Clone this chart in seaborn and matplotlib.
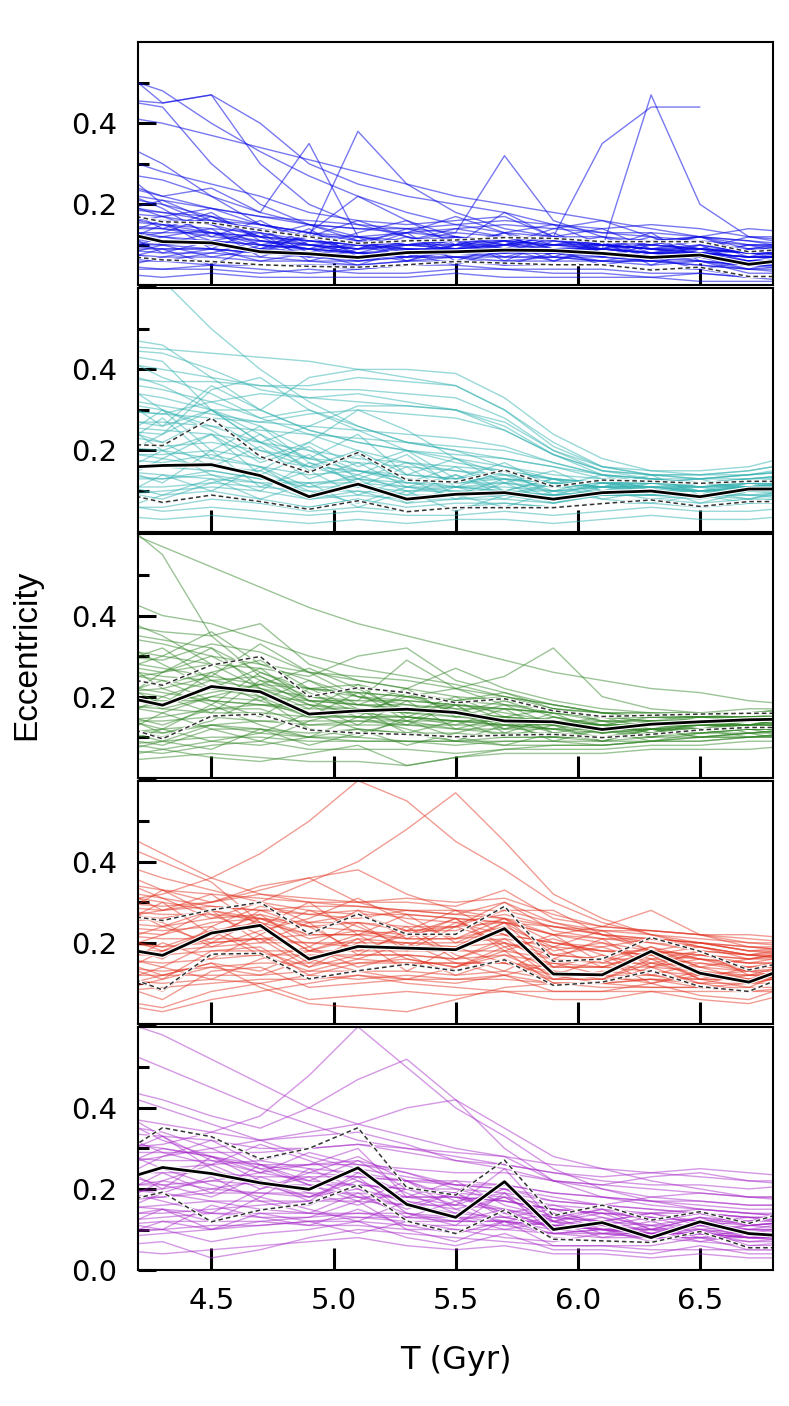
import numpy as np
import pandas as pd
import matplotlib
matplotlib.use("Agg")
import matplotlib.pyplot as plt
import matplotlib.patheffects as pe
import seaborn as sns

# ---------------- data (eccentricity x100) ----------------
T = [4.1, 4.3, 4.5, 4.7, 4.9, 5.1, 5.3, 5.5, 5.7, 5.9, 6.1, 6.3, 6.5, 6.7, 6.9]
NA = np.nan

blue_lines = [
    [55,45,47,30,20,15,12,10,9,8,8,7,6,5,5],
    [52,48,40,33,27,22,18,15,13,12,10,9,9,8,8],
    [46,44,30,20,15,12,10,11,9,8,8,7,7,6,6],
    [36,30,22,15,12,38,25,18,14,12,10,9,8,7,7],
    [28,26,22,18,35,12,10,9,9,8,8,7,8,7,7],
    [22,20,17,13,10,8,7,10,18,12,9,8,7,6,6],
    [15,14,13,12,11,10,10,9,10,12,35,44,44,NA,NA],
    [10,9,9,8,9,10,11,12,10,8,9,47,20,12,10],
    [20,18,16,14,12,12,11,13,32,16,12,10,9,8,8],
    [25,22,24,18,15,14,13,12,11,10,10,9,9,8,8],
    [18,17,15,12,10,9,9,8,9,8,8,7,7,6,6],
    [16,15,14,13,11,10,9,9,8,9,9,8,8,7,7],
    [14,12,11,10,9,8,8,9,9,10,9,8,8,6,6],
    [12,11,10,9,8,7,8,8,9,9,8,7,7,5,5],
    [11,10,9,8,7,6,7,8,8,8,7,6,7,4,5],
    [9,8,8,7,6,5,6,7,7,7,6,5,6,3,3],
    [7,6,6,5,5,4,5,6,5,5,5,4,4,2,2],
    [5,4,4,3,4,3,3,4,4,3,3,2,3,2,1],
    [3,2,3,2,2,2,2,3,2,2,2,2,1,1,1],
    [19,18,17,15,13,11,10,10,11,12,12,11,12,9,9],
    [17,16,16,15,13,12,13,14,15,14,13,13,12,10,10],
    [23,21,19,17,15,14,14,15,16,15,14,15,14,12,12],
    [13,13,13,11,10,9,10,11,11,10,10,9,10,8,8],
    [10,10,11,10,9,8,9,9,10,11,10,10,9,9,10],
    [8,7,7,6,6,6,7,7,6,6,6,6,5,4,4],
    [6,6,5,5,5,5,6,6,6,7,6,6,5,4,3],
    [21,17,13,10,9,8,7,7,8,9,9,8,8,6,6],
    [15,17,19,15,13,22,16,12,10,9,10,9,8,7,7],
    [12,12,10,9,10,11,13,17,13,10,9,8,7,6,6],
    [26,22,19,17,16,15,14,13,12,11,10,11,12,11,9],
    [32,28,25,22,18,16,15,16,17,12,10,9,8,7,7],
    [9,9,9,8,8,7,8,8,7,7,7,6,6,5,5],
    [11,11,10,9,8,8,8,9,9,9,9,8,8,7,7],
    [14,14,12,11,10,9,10,10,10,10,11,10,9,8,7],
    [4,4,5,4,3,4,5,5,4,4,4,3,3,2,2],
    [17,15,13,12,11,10,9,9,8,8,9,10,12,14,13],
    [46,45,47,40,30,25,22,20,18,15,13,12,11,10,10],
    [42,40,37,34,31,28,25,22,20,18,16,14,12,11,10],
    [12,16,9,14,8,12,6,10,13,7,11,5,9,6,8],
    [8,12,14,7,11,9,13,6,10,12,7,10,12,8,6],
    [16,10,13,9,14,7,10,12,6,11,9,12,7,10,9],
    [6,9,5,10,7,11,8,5,9,6,10,7,4,6,5],
    [20,14,18,11,9,13,16,10,8,12,14,9,11,7,10],
    [10,15,11,8,13,10,7,12,9,13,8,6,10,8,11],
    [24,19,12,16,10,8,11,14,12,9,7,11,8,10,7],
    [14,8,11,13,6,9,12,8,11,6,9,13,6,4,7],
    [4,7,9,6,8,5,9,7,5,8,6,8,10,5,4],
    [30,20,15,10,12,16,12,9,13,15,10,8,9,12,11],
    [18,21,16,12,15,11,9,8,10,14,16,12,9,8,10],
    [9,6,8,11,9,6,8,10,12,9,5,7,8,9,6],
    [11,13,17,12,7,10,14,11,7,10,12,8,6,5,8],
    [7,10,7,9,12,8,6,9,11,8,10,9,7,9,11],
]
cyan_lines = [
    [70,62,50,40,32,26,22,20,18,16,14,13,12,12,13],
    [46,45,44,43,42,40,38,36,30,22,16,14,13,14,15],
    [42,40,38,36,35,35,34,33,28,20,15,13,12,13,14],
    [45,44,40,35,33,32,31,30,26,19,14,12,12,13,14],
    [38,37,37,36,36,38,37,36,30,21,16,15,14,14,16],
    [35,33,30,30,38,40,40,39,33,24,18,15,15,16,19],
    [30,29,28,27,29,30,29,28,25,19,15,14,13,13,14],
    [33,31,29,27,26,25,24,23,21,17,14,13,12,12,13],
    [28,26,36,30,25,22,20,19,18,16,13,12,12,12,12],
    [26,25,24,22,20,18,17,16,15,13,12,11,11,11,12],
    [24,22,28,20,16,20,14,13,15,11,13,12,12,12,12],
    [21,20,18,16,14,15,13,12,13,11,12,12,11,12,12],
    [18,17,19,16,11,14,10,11,12,10,11,11,10,11,11],
    [16,16,17,14,9,12,8,9,10,8,10,10,9,11,11],
    [14,13,14,12,8,10,7,8,8,7,9,9,8,10,10],
    [12,9,10,8,6,8,6,7,7,6,7,8,7,8,8],
    [10,7,9,7,6,8,5,6,6,6,7,8,6,7,7],
    [7,5,6,5,4,5,4,4,5,4,5,6,5,5,6],
    [4,3,4,3,2,3,2,3,3,2,3,4,3,3,4],
    [40,36,30,24,18,15,12,11,10,10,11,10,10,11,11],
    [44,42,30,22,16,13,11,10,9,9,9,9,9,10,10],
    [32,30,26,22,26,31,31,30,27,20,16,14,14,15,17],
    [37,35,32,28,24,20,17,15,13,12,11,11,10,10,11],
    [27,27,26,25,24,23,22,21,20,17,14,13,13,14,15],
    [22,21,22,20,18,17,16,15,14,13,12,12,12,13,13],
    [19,19,20,18,16,15,14,13,13,12,12,12,11,12,13],
    [13,13,15,13,11,11,10,10,10,9,10,10,10,10,11],
    [9,10,11,10,8,9,8,8,9,8,9,9,9,9,10],
    [48,46,38,30,25,22,20,18,16,14,13,12,12,12,12],
    [25,24,35,38,30,25,20,17,15,13,12,11,11,11,12],
    [20,18,16,15,22,30,25,18,14,12,11,10,10,11,11],
    [6,6,8,7,5,6,5,6,7,6,7,7,6,7,8],
    [15,14,13,12,12,13,12,12,12,11,11,11,10,11,12],
    [17,16,15,13,12,12,11,11,11,10,10,10,10,10,10],
    [11,11,12,11,10,10,9,9,9,9,9,9,9,9,9],
    [30,29,32,34,33,34,32,30,25,19,15,14,14,15,17],
    [20,28,18,24,15,19,12,16,10,13,9,12,10,8,11],
    [12,18,24,14,19,11,16,9,13,8,11,14,9,12,10],
    [28,20,24,17,21,13,17,12,14,10,13,9,12,10,12],
    [8,14,10,16,9,13,7,11,8,12,8,10,11,9,8],
    [34,26,30,22,18,24,14,18,12,15,10,13,11,12,14],
    [16,12,20,11,15,9,13,8,12,7,10,8,9,7,9],
    [22,30,25,18,22,16,20,13,17,11,14,10,12,11,13],
    [5,9,13,8,12,6,10,5,9,7,9,11,7,10,9],
    [38,30,20,26,17,14,19,11,15,9,12,10,9,11,10],
    [14,20,14,10,17,12,9,14,10,13,10,12,13,10,12],
    [26,22,16,21,13,17,11,14,9,12,11,13,10,12,11],
    [10,8,12,15,10,7,11,9,6,10,8,7,9,8,10],
    [18,24,30,26,20,15,13,11,10,9,10,11,12,11,12],
    [44,38,34,28,30,26,22,20,16,13,11,12,13,14,15],
]
green_lines = [
    [62,57,52,47,42,38,35,32,29,26,24,22,21,19,18],
    [65,55,35,25,20,18,17,16,15,14,13,13,13,13,13],
    [45,40,38,34,30,27,25,23,20,18,16,15,15,15,15],
    [38,36,35,38,28,24,22,20,19,17,15,15,16,16,16],
    [35,33,30,28,26,25,24,22,20,18,16,16,16,17,17],
    [30,29,33,31,26,24,22,27,22,19,17,16,16,16,17],
    [28,26,28,30,20,22,21,19,20,17,15,15,16,16,16],
    [25,23,26,29,22,23,20,19,21,17,16,15,15,16,17],
    [22,20,24,25,19,19,19,18,17,16,14,14,15,15,15],
    [20,18,22,21,16,17,17,16,14,14,12,13,14,14,14],
    [18,16,20,19,15,15,15,14,13,13,11,12,13,13,13],
    [16,13,17,17,13,13,13,12,12,12,10,11,12,12,12],
    [13,10,15,16,12,11,11,10,11,11,10,11,12,12,12],
    [10,8,12,12,10,9,9,8,9,9,8,9,10,10,10],
    [7,6,8,9,7,7,7,6,7,7,7,8,8,9,9],
    [4,5,6,5,4,4,3,5,6,6,6,7,7,7,8],
    [32,30,28,27,25,30,32,24,21,18,16,15,15,15,16],
    [24,26,30,24,22,21,20,22,25,32,20,17,16,16,17],
    [26,24,22,20,19,18,18,17,17,16,15,15,15,15,15],
    [19,19,19,18,17,17,16,16,15,14,13,13,13,13,14],
    [14,14,15,14,14,14,13,13,13,12,11,12,12,12,13],
    [11,12,13,12,11,12,11,11,10,10,10,10,11,11,12],
    [8,9,10,10,9,9,9,9,9,9,9,9,10,10,11],
    [27,25,24,22,20,19,29,22,18,16,15,14,14,14,15],
    [36,34,32,26,22,20,19,18,17,16,15,14,14,14,14],
    [21,22,25,33,26,20,17,15,14,13,12,12,12,13,13],
    [17,18,21,23,19,18,17,18,16,14,13,13,13,13,14],
    [12,11,13,14,13,14,14,12,11,10,10,11,11,12,12],
    [15,12,9,8,10,12,11,9,8,8,8,9,9,10,11],
    [9,7,5,4,6,8,3,5,7,8,8,9,9,10,10],
    [23,21,19,18,18,17,16,15,15,14,14,14,14,14,15],
    [18,17,16,16,15,15,15,14,14,13,13,13,13,14,14],
    [29,27,25,23,22,21,20,19,18,17,16,16,15,15,15],
    [14,15,17,18,16,15,14,14,13,12,12,12,13,13,13],
    [5,7,9,11,10,10,9,9,10,10,9,10,10,11,11],
    [40,35,28,22,18,16,15,14,14,13,12,12,12,12,12],
    [24,18,26,20,15,21,14,18,12,16,11,14,12,13,15],
    [14,20,16,24,18,13,19,12,15,11,13,10,14,11,12],
    [30,22,18,26,21,16,20,17,13,15,12,14,13,15,14],
    [10,16,12,9,14,17,11,14,10,13,9,12,11,12,13],
    [18,26,32,22,17,23,15,19,14,12,14,11,13,12,14],
    [28,32,24,19,24,18,22,15,18,13,15,12,14,13,15],
    [8,12,18,13,10,15,12,9,13,10,12,9,11,12,10],
    [34,28,22,27,19,15,21,16,12,14,11,13,12,14,13],
    [16,11,14,20,12,10,15,13,17,11,10,12,10,11,12],
    [20,24,19,15,22,17,13,18,11,15,13,11,14,12,13],
    [12,9,13,11,16,12,8,11,14,9,12,10,12,10,11],
    [26,30,36,28,24,20,18,16,19,15,13,15,14,13,15],
    [6,9,7,12,8,11,14,10,8,11,9,12,10,11,9],
    [22,17,20,23,27,22,16,20,15,17,14,13,15,14,16],
]
red_lines = [
    [30,32,36,42,50,60,55,45,38,30,25,22,20,18,17],
    [25,26,28,30,35,40,48,57,45,32,26,22,19,17,16],
    [48,42,36,32,30,29,28,27,26,24,22,21,20,19,18],
    [35,33,32,31,30,30,31,30,31,27,24,23,22,21,20],
    [30,29,30,32,31,30,30,29,33,26,24,23,22,20,19],
    [27,26,28,30,22,27,22,22,29,15,16,21,18,13,16],
    [25,24,26,27,24,25,23,23,26,20,19,21,19,16,17],
    [23,22,25,26,21,23,21,21,26,17,16,19,16,13,16],
    [21,19,23,25,18,21,20,19,25,14,14,18,14,11,15],
    [19,17,22,24,16,19,19,18,24,12,12,18,13,10,15],
    [17,14,20,21,14,17,17,16,20,11,11,16,11,9,14],
    [15,11,18,19,12,15,16,14,18,10,10,14,10,8,13],
    [13,8,17,17,11,13,15,13,16,10,10,13,9,8,13],
    [10,6,13,14,9,10,11,10,12,8,8,10,7,6,10],
    [6,4,8,10,6,7,8,7,8,6,6,8,6,5,8],
    [40,36,33,30,28,27,27,26,25,24,23,23,22,22,21],
    [33,31,29,28,27,26,28,27,30,23,21,20,19,17,17],
    [28,27,27,26,25,25,24,24,25,22,21,21,20,19,19],
    [22,21,21,21,20,20,20,20,21,19,18,18,17,16,16],
    [24,23,24,29,27,28,26,25,27,24,22,21,20,18,18],
    [20,19,20,21,22,22,21,21,22,20,18,17,16,15,15],
    [18,18,19,20,20,19,19,19,20,17,16,16,15,14,14],
    [16,15,16,17,17,17,17,16,17,15,14,14,13,12,13],
    [14,13,14,15,15,15,15,15,15,13,12,12,11,11,11],
    [12,12,12,12,13,13,13,12,13,11,11,11,10,10,10],
    [8,9,10,11,11,12,11,11,11,10,9,9,9,9,9],
    [5,3,6,8,10,12,10,9,8,8,8,8,8,8,8],
    [38,33,30,34,36,38,32,28,26,22,20,18,17,15,15],
    [26,28,30,33,36,30,27,26,25,22,24,28,22,19,18],
    [20,24,28,25,22,22,23,24,28,28,22,18,16,14,14],
    [32,30,28,26,24,23,22,24,30,25,22,20,18,17,16],
    [11,10,11,10,12,11,12,11,12,10,10,9,9,8,9],
    [17,17,18,18,18,18,18,18,18,16,15,15,14,13,13],
    [29,28,29,28,29,29,28,28,28,25,23,22,21,20,20],
    [9,12,15,9,5,4,3,6,9,10,10,11,11,11,12],
    [45,40,35,25,18,16,15,15,15,14,14,13,12,12,12],
    [24,30,22,27,19,25,18,24,20,16,21,14,18,12,15],
    [18,22,28,20,25,17,23,16,21,14,17,12,15,13,14],
    [30,24,20,26,22,28,21,26,18,22,15,19,14,16,18],
    [14,20,16,22,15,21,13,19,15,12,16,10,13,11,12],
    [34,28,32,24,30,22,27,20,25,18,20,16,18,17,19],
    [20,16,24,18,14,20,24,17,13,19,14,17,11,14,16],
    [26,33,27,22,28,24,19,25,22,17,19,15,17,16,18],
    [10,14,11,16,19,14,17,12,16,11,13,12,10,12,11],
    [22,18,21,28,24,18,22,26,19,21,17,14,16,15,17],
    [16,12,15,13,18,22,16,14,19,13,11,15,12,10,12],
    [28,25,19,23,26,31,25,21,24,19,23,18,20,18,19],
    [12,18,23,17,13,16,20,15,12,15,12,10,12,13,11],
    [36,31,26,30,25,27,23,28,22,20,18,17,19,17,18],
    [8,11,14,12,16,13,11,14,17,12,10,11,9,10,12],
]
purple_lines = [
    [62,58,52,46,40,36,33,30,28,26,25,24,23,22,22],
    [55,50,45,40,36,32,30,28,26,24,22,21,21,20,21],
    [45,42,38,35,40,47,52,42,35,28,25,22,20,18,18],
    [38,36,34,32,34,36,40,42,30,22,18,16,15,14,14],
    [30,31,34,38,48,60,50,40,33,25,20,17,15,14,13],
    [34,33,32,30,30,31,30,29,28,22,20,18,17,16,16],
    [27,35,33,27,30,35,20,19,27,13,16,12,14,12,15],
    [25,30,28,25,26,30,18,16,25,12,14,10,13,11,12],
    [22,25,24,22,20,25,16,13,22,10,12,8,12,9,8],
    [20,22,20,19,18,23,14,11,19,9,10,8,11,8,7],
    [16,19,12,15,16,21,12,9,15,8,7,7,10,6,6],
    [13,15,10,12,13,17,10,7,12,6,6,6,8,5,5],
    [9,10,7,9,10,12,8,6,9,5,5,4,6,4,4],
    [5,4,5,6,7,8,6,5,6,4,4,3,4,3,3],
    [28,27,27,26,26,26,25,24,24,22,21,20,19,18,18],
    [24,24,24,23,23,23,22,22,21,19,18,17,16,15,15],
    [21,21,22,21,21,21,20,20,19,17,16,15,14,13,13],
    [18,18,19,19,19,19,18,18,17,15,14,13,12,12,12],
    [15,16,17,17,17,17,16,16,15,13,12,11,11,10,10],
    [12,13,14,14,14,14,13,13,13,11,10,10,9,9,9],
    [10,10,11,11,12,12,11,11,11,9,9,8,8,8,8],
    [40,33,27,24,22,21,20,19,18,16,15,14,14,13,13],
    [26,28,30,32,33,34,31,27,25,22,21,23,24,22,21],
    [19,20,22,24,26,27,24,21,20,17,16,18,19,18,17],
    [14,14,15,16,17,18,18,18,17,15,14,14,15,14,13],
    [8,9,10,11,12,13,13,12,12,10,9,9,9,8,8],
    [32,30,28,26,24,23,22,21,21,19,18,17,17,16,16],
    [17,18,20,22,18,20,17,15,18,12,11,10,10,9,9],
    [23,25,26,27,25,24,22,18,15,12,10,9,9,8,8],
    [6,7,3,5,8,10,9,8,7,6,6,5,5,5,5],
    [36,34,30,25,21,18,16,14,13,11,10,9,9,8,8],
    [11,12,12,12,11,11,10,10,10,9,8,8,8,7,7],
    [29,29,29,29,30,31,29,27,26,24,23,24,25,24,23],
    [20,19,17,15,14,13,12,12,12,11,10,10,11,10,10],
    [16,15,14,13,13,14,14,13,12,11,10,9,9,8,8],
    [44,40,36,32,28,25,23,21,20,18,16,15,14,13,12],
    [26,20,28,22,17,24,19,14,18,12,15,10,13,9,11],
    [18,24,19,26,21,17,22,15,12,14,10,12,9,11,10],
    [30,25,21,18,25,20,15,19,14,11,13,9,12,10,12],
    [14,19,23,17,14,19,13,17,11,13,9,11,8,10,9],
    [22,28,32,26,22,27,20,16,20,14,12,14,11,12,13],
    [10,15,12,18,15,12,17,13,10,12,8,10,7,9,8],
    [34,29,26,31,27,22,18,22,16,13,15,12,14,11,12],
    [20,17,14,20,23,18,14,12,15,10,11,9,10,8,10],
    [16,22,26,21,18,22,16,19,13,15,11,13,10,11,12],
    [28,33,25,20,24,28,22,17,19,13,12,14,12,13,11],
    [12,10,16,13,11,15,11,9,12,9,10,7,9,7,8],
    [24,21,18,23,19,16,20,18,14,16,13,11,13,12,14],
    [8,12,10,14,12,9,12,10,8,7,9,8,7,6,7],
    [38,32,28,24,29,26,24,20,17,15,14,13,12,11,12],
]

# median and percentile curves (x100)
blue_med = [13.5,10.8,10.5,8.3,7.8,6.9,8.1,8.3,8.7,8.6,7.9,6.9,7.5,5.2,6.6]
blue_hi  = [18.1,15.7,15.4,13.6,12.0,10.4,11.0,11.2,11.8,11.6,10.8,10.8,10.8,8.3,9.1]
blue_lo  = [7.5,6.3,5.9,5.1,4.7,4.5,5.1,5.9,5.5,5.1,5.1,3.8,4.5,2.2,2.2]
cyan_med = [15.7,16.3,16.5,13.8,8.6,11.7,8.0,9.2,9.6,8.0,9.6,10.0,8.6,10.5,10.5]
cyan_hi  = [21.6,21.2,28.0,18.5,14.6,19.5,12.7,12.2,15.2,11.1,12.7,12.4,11.9,12.4,12.4]
cyan_lo  = [10.0,7.2,9.0,7.4,5.5,7.6,4.9,5.9,5.9,5.9,6.9,7.8,6.2,7.4,7.4]
green_med = [20.5,17.9,22.5,21.2,15.7,16.5,16.9,16.1,14.0,13.8,11.9,13.2,13.8,14.3,14.5]
green_hi  = [25.0,22.8,27.8,29.9,20.0,22.2,21.0,18.5,19.5,16.5,15.1,15.4,15.7,15.9,15.9]
green_lo  = [13.4,9.6,15.2,15.7,11.8,11.0,10.7,10.1,10.5,10.7,9.9,10.7,11.8,12.4,12.4]
red_med = [18.9,16.9,22.4,24.3,16.0,19.1,18.7,18.3,23.5,12.3,12.1,17.9,12.5,10.3,14.7]
red_hi  = [27.1,25.5,28.1,30.0,22.2,27.1,22.1,22.1,29.0,15.4,16.0,21.3,17.9,13.3,15.9]
red_lo  = [12.8,8.4,17.2,17.4,11.1,13.1,14.7,13.1,15.8,9.5,10.3,13.1,9.2,8.0,13.0]
purple_med = [21.7,25.3,23.8,21.5,19.9,25.2,16.2,13.0,21.8,10.0,11.7,8.0,11.9,9.0,8.2]
purple_hi  = [27.4,35.1,32.9,27.4,30.0,35.1,20.3,18.5,27.1,13.4,16.0,12.3,14.4,11.5,15.3]
purple_lo  = [16.4,19.2,11.9,14.8,16.4,21.0,12.1,9.0,14.8,7.6,7.2,6.8,9.5,5.5,5.5]

panel_lines = [blue_lines, cyan_lines, green_lines, red_lines, purple_lines]
panel_med = [blue_med, cyan_med, green_med, red_med, purple_med]
panel_hi = [blue_hi, cyan_hi, green_hi, red_hi, purple_hi]
panel_lo = [blue_lo, cyan_lo, green_lo, red_lo, purple_lo]
panel_colors = ["#0a0ae6", "#34b2b2", "#2f8424", "#e2301d", "#a626c8"]
panel_alpha = [0.55, 0.5, 0.48, 0.48, 0.48]

x_ticks = [4.5, 5.0, 5.5, 6.0, 6.5]
y_ticks = [0.0, 0.2, 0.4]

# ---------------- figure ----------------
sns.set_theme(style="white")
plt.rcParams["font.family"] = ["DejaVu Sans"]
plt.rcParams["text.color"] = "black"
plt.rcParams["axes.labelcolor"] = "black"
plt.rcParams["xtick.color"] = "black"
plt.rcParams["ytick.color"] = "black"

fig, axes = plt.subplots(5, 1, figsize=(7.89, 14.06), dpi=100, sharex=True)
fig.subplots_adjust(left=0.175, right=0.98, top=0.970, bottom=0.0967, hspace=0.012)

for i, ax in enumerate(axes):
    arr = np.array(panel_lines[i], dtype=float) / 100.0
    recs = []
    for k, row in enumerate(arr):
        for t, v in zip(T, row):
            recs.append({"T": t, "e": v, "id": k})
    df = pd.DataFrame(recs).dropna()
    sns.lineplot(data=df, x="T", y="e", units="id", estimator=None,
                 color=panel_colors[i], alpha=panel_alpha[i], lw=1.0,
                 ax=ax, legend=False)

    stats = pd.DataFrame({"T": T,
                          "med": np.array(panel_med[i]) / 100.0,
                          "hi": np.array(panel_hi[i]) / 100.0,
                          "lo": np.array(panel_lo[i]) / 100.0})
    for col in ["hi", "lo"]:
        sns.lineplot(data=stats, x="T", y=col, color="white", lw=2.2, ax=ax)
        sns.lineplot(data=stats, x="T", y=col, color="#333333", lw=1.1,
                     ax=ax, linestyle=(0, (3, 2)))
    sns.lineplot(data=stats, x="T", y="med", color="black", lw=2.0, ax=ax,
                 path_effects=[pe.Stroke(linewidth=3.6, foreground="white"), pe.Normal()])

    ax.set_xlim(4.2, 6.8)
    ax.set_ylim(0.0, 0.6)
    ax.set_xticks(x_ticks)
    ax.set_yticks(y_ticks)
    ax.set_yticks([0.1, 0.3, 0.5], minor=True)
    if i < 4:
        ax.set_yticklabels(["", "0.2", "0.4"])
    else:
        ax.set_yticklabels(["0.0", "0.2", "0.4"])
        ax.set_xticklabels(["4.5", "5.0", "5.5", "6.0", "6.5"])
    ax.set_xlabel("")
    ax.set_ylabel("")
    ax.tick_params(axis="x", which="major", direction="in", length=16, width=2.2,
                   labelsize=21, pad=12, bottom=True, top=False, colors="black")
    ax.tick_params(axis="y", which="major", direction="in", length=13, width=2.2,
                   labelsize=21, pad=15, left=True, right=False, colors="black")
    ax.tick_params(axis="y", which="minor", direction="in", length=8, width=2.2,
                   left=True, right=False, colors="black")
    for s in ax.spines.values():
        s.set_color("black")
        s.set_linewidth(1.5)
    ax.set_facecolor("white")

axes[-1].set_xlabel("T (Gyr)", fontsize=23, labelpad=22, color="black")
fig.text(0.034, 0.534, "Eccentricity", rotation=90, ha="center", va="center",
         fontsize=24, color="black", family=["Liberation Sans", "DejaVu Sans"])

fig.savefig("out.png", dpi=100, facecolor="white")
